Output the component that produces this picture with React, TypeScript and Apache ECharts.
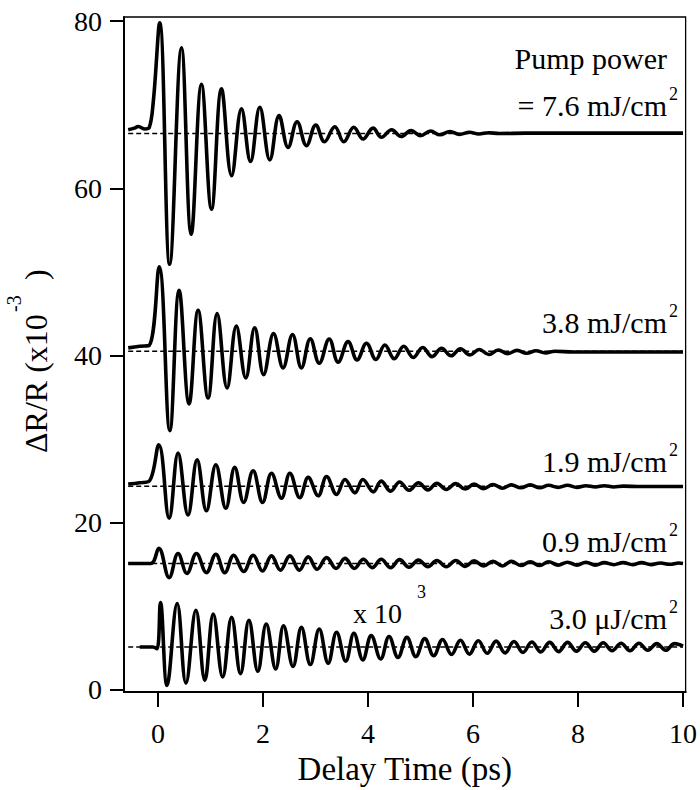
import React, { useEffect, useRef } from "react";
import * as echarts from "echarts";

const xTicks = [0, 2, 4, 6, 8, 10];
const yTicks = [0, 20, 40, 60, 80];

// 7.6 mJ/cm2 trace: [delay (ps), dR/R (x1e-3)]
const trace76: [number, number][] = [
  [-0.57, 67.0], [-0.45, 67.2], [-0.38, 67.4], [-0.25, 67.1], [-0.17, 67.25], [-0.09, 70.5],
  [0.03, 79.8], [0.22, 50.9], [0.445, 76.8], [0.63, 54.5], [0.826, 72.45], [1.017, 57.5],
  [1.207, 71.9], [1.4, 61.5], [1.588, 69.5], [1.76, 63.2], [1.937, 69.7], [2.128, 63.4],
  [2.305, 68.7], [2.476, 64.9], [2.648, 67.96], [2.826, 65.1], [3.004, 67.56], [3.17, 65.57],
  [3.366, 67.36], [3.537, 65.57], [3.728, 67.3], [3.905, 65.9], [4.095, 67.2], [4.255, 66.1],
  [4.45, 67.0], [4.63, 66.2], [4.82, 66.9], [5.0, 66.3], [5.19, 66.85], [5.37, 66.4],
  [5.56, 66.8], [5.74, 66.45], [5.93, 66.7], [6.11, 66.5], [6.3, 66.65], [6.5, 66.55],
  [7.0, 66.6], [8.0, 66.6], [9.0, 66.6], [10.0, 66.6],
];

// 3.8 mJ/cm2 trace
const trace38: [number, number][] = [
  [-0.57, 40.9], [-0.35, 41.1], [-0.17, 41.2], [0.02, 50.6], [0.223, 31.0], [0.4, 47.8],
  [0.59, 34.2], [0.762, 45.4], [0.952, 34.9], [1.124, 45.0], [1.314, 36.1], [1.49, 43.5],
  [1.67, 37.3], [1.84, 43.3], [2.01, 37.7], [2.2, 42.6], [2.38, 38.5], [2.56, 42.5],
  [2.73, 38.5], [2.9, 42.0], [3.07, 39.06], [3.26, 41.96], [3.43, 39.18], [3.62, 41.65],
  [3.79, 39.46], [3.97, 41.45], [4.15, 39.5], [4.32, 41.24], [4.5, 39.6], [4.68, 41.1],
  [4.86, 39.75], [5.04, 40.95], [5.22, 39.85], [5.4, 40.85], [5.58, 39.95], [5.76, 40.8],
  [5.94, 40.05], [6.12, 40.7], [6.3, 40.1], [6.48, 40.65], [6.66, 40.2], [6.84, 40.6],
  [7.02, 40.25], [7.2, 40.55], [7.38, 40.3], [7.56, 40.5], [7.9, 40.4], [9.0, 40.4], [10.0, 40.4],
];

// 1.9 mJ/cm2 trace
const trace19: [number, number][] = [
  [-0.57, 24.6], [-0.35, 24.75], [-0.17, 24.95], [0.013, 29.3], [0.21, 20.5], [0.38, 28.3],
  [0.57, 20.9], [0.743, 27.5], [0.92, 21.4], [1.1, 26.9], [1.29, 21.7], [1.46, 26.6],
  [1.63, 22.4], [1.81, 26.2], [1.99, 22.4], [2.16, 25.9], [2.35, 22.9], [2.51, 25.9],
  [2.7, 22.96], [2.86, 25.4], [3.05, 23.2], [3.21, 25.5], [3.4, 23.35], [3.56, 25.15],
  [3.75, 23.55], [3.9, 25.15], [4.1, 23.67], [4.25, 24.95], [4.43, 23.75], [4.6, 24.85],
  [4.78, 23.85], [4.96, 24.75], [5.14, 23.9], [5.31, 24.7], [5.49, 23.95], [5.67, 24.65],
  [5.85, 24.0], [6.02, 24.6], [6.2, 24.05], [6.38, 24.55], [6.56, 24.1], [6.73, 24.5],
  [6.91, 24.15], [7.09, 24.5], [7.27, 24.15], [7.44, 24.45], [7.62, 24.2], [7.8, 24.45],
  [7.98, 24.2], [8.15, 24.4], [8.33, 24.25], [8.5, 24.4], [8.68, 24.25], [8.86, 24.35],
  [9.2, 24.3], [10.0, 24.3],
];

// 0.9 mJ/cm2 trace
const trace09: [number, number][] = [
  [-0.57, 15.1], [-0.14, 15.1], [0.013, 16.9], [0.21, 13.4], [0.38, 16.28], [0.55, 13.9],
  [0.73, 16.28], [0.92, 14.0], [1.1, 16.2], [1.27, 14.0], [1.44, 16.08], [1.63, 14.13],
  [1.81, 16.08], [1.99, 14.2], [2.16, 16.0], [2.33, 14.3], [2.51, 16.0], [2.69, 14.3],
  [2.86, 15.88], [3.03, 14.4], [3.21, 15.8], [3.39, 14.5], [3.56, 15.7], [3.74, 14.5],
  [3.91, 15.6], [4.08, 14.6], [4.25, 15.6], [4.43, 14.6], [4.6, 15.55], [4.78, 14.65],
  [4.96, 15.5], [5.14, 14.7], [5.31, 15.45], [5.49, 14.7], [5.67, 15.45], [5.85, 14.75],
  [6.02, 15.4], [6.2, 14.8], [6.38, 15.35], [6.56, 14.8], [6.73, 15.35], [6.91, 14.85],
  [7.09, 15.3], [7.27, 14.85], [7.44, 15.3], [7.62, 14.9], [7.8, 15.25], [7.98, 14.9],
  [8.15, 15.25], [8.33, 14.9], [8.5, 15.2], [8.68, 14.95], [8.86, 15.2], [9.04, 14.95],
  [9.21, 15.2], [9.39, 14.95], [9.57, 15.15], [9.75, 15.0], [9.92, 15.15], [10.0, 15.1],
];

// 3.0 uJ/cm2 trace (x 10^3)
const trace30: [number, number][] = [
  [-0.35, 5.1], [-0.1, 5.1], [-0.02, 4.9], [0.045, 10.43], [0.17, 0.5], [0.363, 10.3],
  [0.53, 0.78], [0.72, 9.5], [0.89, 1.1], [1.05, 9.05], [1.23, 1.5], [1.4, 8.65],
  [1.57, 1.9], [1.73, 8.3], [1.9, 2.2], [2.06, 7.85], [2.24, 2.48], [2.39, 7.65],
  [2.57, 2.77], [2.73, 7.45], [2.9, 3.0], [3.07, 7.25], [3.24, 3.16], [3.4, 6.86],
  [3.575, 3.4], [3.73, 6.74], [3.9, 3.56], [4.06, 6.46], [4.24, 3.67], [4.4, 6.35],
  [4.57, 3.85], [4.74, 6.25], [4.91, 3.95], [5.08, 6.1], [5.25, 4.05], [5.42, 6.0],
  [5.59, 4.2], [5.76, 5.9], [5.93, 4.25], [6.1, 5.85], [6.27, 4.35], [6.44, 5.8],
  [6.61, 4.4], [6.78, 5.75], [6.95, 4.45], [7.12, 5.7], [7.29, 4.5], [7.46, 5.65],
  [7.63, 4.55], [7.8, 5.65], [7.97, 4.6], [8.14, 5.6], [8.31, 4.6], [8.48, 5.6],
  [8.65, 4.65], [8.82, 5.55], [8.99, 4.65], [9.16, 5.55], [9.33, 4.7], [9.5, 5.5],
  [9.67, 4.7], [9.84, 5.5], [10.0, 5.2],
];

const traces = [trace76, trace38, trace19, trace09, trace30];
const baselines = [66.55, 40.5, 24.35, 15.08, 5.1];
const baselineStart = [-0.57, -0.57, -0.57, -0.57, -0.57];
const baselineEnd = 10;

const FAMILY = "Liberation Serif";
const f = (size: number) => `${size}px "${FAMILY}"`;

export default function App() {
  const ref = useRef<HTMLDivElement>(null);
  useEffect(() => {
    document.body.style.margin = "0";
    if (!ref.current) return;
    const chart = echarts.init(ref.current, undefined, { renderer: "svg" });

    const curveSeries = traces.map((d) => ({
      type: "line",
      data: d,
      smooth: 0.4,
      showSymbol: false,
      symbol: "none",
      lineStyle: { color: "#000", width: 3.6 },
      z: 3,
    }));
    const baseSeries = baselines.map((b, i) => ({
      type: "line",
      data: [
        [baselineStart[i], b],
        [baselineEnd, b],
      ],
      showSymbol: false,
      symbol: "none",
      lineStyle: { color: "#000", width: 1.5, type: [5, 3] },
      z: 2,
    }));

    const txt = (text: string, x: number, y: number, size: number, align: string) => ({
      type: "text",
      x,
      y,
      z: 10,
      style: {
        text,
        fill: "#000",
        font: f(size),
        align: align,
        verticalAlign: "middle",
      },
    });

    const option: any = {
      animation: false,
      grid: {
        left: 124,
        right: 14,
        top: 17,
        bottom: 95,
        show: true,
        borderColor: "#000",
        borderWidth: 1.3,
        backgroundColor: "transparent",
      },
      xAxis: {
        type: "value",
        min: -0.65,
        max: 10.05,
        axisLine: { show: true, onZero: false, lineStyle: { color: "#000", width: 2 } },
        axisTick: { show: true, length: 15, inside: false, customValues: xTicks, lineStyle: { color: "#000", width: 2 } },
        axisLabel: { customValues: xTicks, color: "#000", fontSize: 28, fontFamily: FAMILY, margin: 27 },
        splitLine: { show: false },
        name: "Delay Time (ps)",
        nameLocation: "middle",
        nameGap: 50,
        nameTextStyle: { color: "#000", fontSize: 33, fontFamily: FAMILY },
      },
      yAxis: {
        type: "value",
        min: -0.3,
        max: 80.5,
        axisLine: { show: true, onZero: false, lineStyle: { color: "#000", width: 2 } },
        axisTick: { show: true, length: 14, inside: false, customValues: yTicks, lineStyle: { color: "#000", width: 2 } },
        axisLabel: { customValues: yTicks, color: "#000", fontSize: 28, fontFamily: FAMILY, margin: 22 },
        splitLine: { show: false },
      },
      series: [...baseSeries, ...curveSeries],
      graphic: {
        elements: [
          txt("Pump power", 667, 58, 30, "right"),
          txt("= 7.6 mJ/cm", 667, 105, 30, "right"),
          txt("2", 669, 94, 18, "left"),
          txt("3.8 mJ/cm", 667, 322, 30, "right"),
          txt("2", 669, 311, 18, "left"),
          txt("1.9 mJ/cm", 667, 461, 30, "right"),
          txt("2", 669, 450, 18, "left"),
          txt("0.9 mJ/cm", 667, 541, 30, "right"),
          txt("2", 669, 530, 18, "left"),
          txt("3.0 μJ/cm", 667, 618, 30, "right"),
          txt("2", 669, 607, 18, "left"),
          txt("x 10", 353, 613, 28, "left"),
          txt("3", 417, 592, 18, "left"),
          {
            type: "group",
            x: 36,
            y: 453,
            rotation: Math.PI / 2,
            children: [
              txt("ΔR/R (x10", 0, 0, 32, "left"),
              txt("-3", 141, -22, 20, "left"),
              txt(")", 173, 0, 32, "left"),
            ],
          },
        ],
      },
    };
    chart.setOption(option);
    return () => chart.dispose();
  }, []);
  return (
    <div>
      <div ref={ref} style={{ width: 700, height: 790 }} />
    </div>
  );
}
